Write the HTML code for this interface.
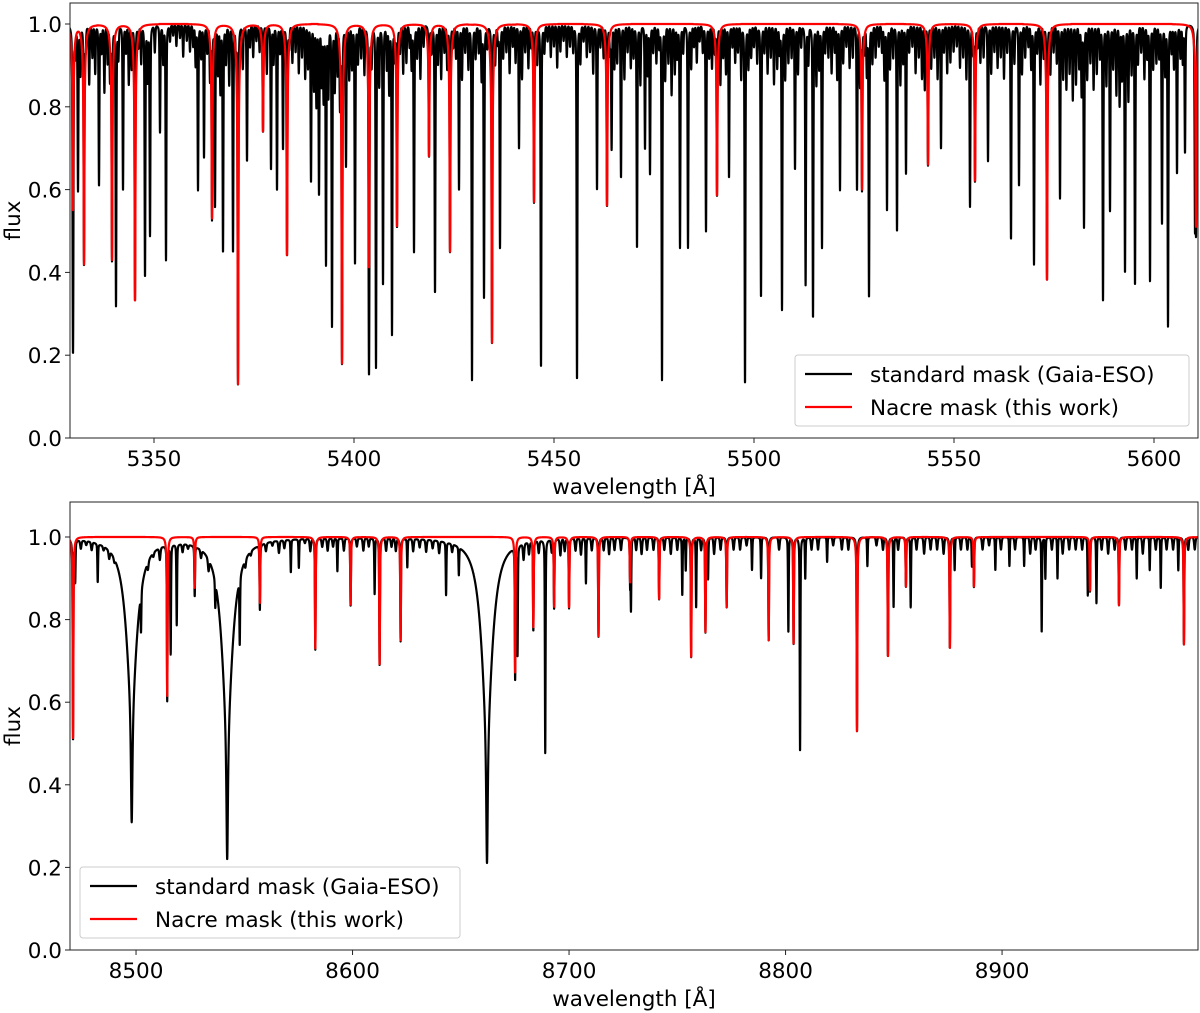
<!DOCTYPE html>
<html><head><meta charset="utf-8">
<style>
html,body{margin:0;padding:0;background:#fff;}
svg{display:block;font-family:"DejaVu Sans","Liberation Sans",sans-serif;}
</style></head>
<body>
<svg id="fig" width="1200" height="1013" viewBox="0 0 1200 1013" xmlns="http://www.w3.org/2000/svg">
<defs>
<clipPath id="clipTop"><rect x="70" y="3" width="1128" height="435"/></clipPath>
<clipPath id="clipBot"><rect x="70" y="502" width="1128" height="448"/></clipPath>
</defs>
<g id="top"></g>
<g id="bot"></g>
</svg>
<script>
// ---------- TOP PANEL DATA (5330-5610 Å) ----------
const topRedCenters = [5329.75,5332.5,5339.5,5345.25,5364.5,5371,5377.25,5383.25,5397,5403.75,5410.75,5418.75,5424,5434.5,5445,5463.25,5490.75,5527,5543.5,5555.25,5573.25,5610.5];
const topRedDepths  = [0.45,0.58,0.57,0.67,0.47,0.87,0.26,0.56,0.82,0.59,0.49,0.32,0.55,0.77,0.43,0.44,0.415,0.40,0.34,0.38,0.62,0.49];
const topDeepCenters = [5329.75,5331,5336.25,5340.5,5342.25,5347.75,5349,5351.5,5353,5361,5362.5,5365.25,5367.25,5369.75,5373.25,5379.25,5380.75,5382.25,5389.25,5391.25,5393,5394.5,5398,5400.25,5403.75,5405.5,5407.25,5409.5,5415,5420.25,5426.25,5429.5,5432.5,5436.5,5441.25,5446.75,5455.75,5460.75,5464.4,5466.75,5470.75,5472.75,5474,5477,5481.5,5483.5,5488,5493.75,5497.75,5501.75,5507,5510.25,5512.9,5514.75,5517,5521.5,5525.75,5528.75,5533.25,5535.75,5538,5546.75,5554,5558.5,5564.25,5566.25,5570,5576.5,5582.5,5587.25,5589,5592.75,5595.25,5599,5602,5603.5,5605.75,5607.75,5610.25];
const topDeepDepths  = [0.63,0.40,0.39,0.68,0.40,0.61,0.51,0.26,0.57,0.40,0.32,0.44,0.55,0.55,0.33,0.35,0.40,0.30,0.38,0.41,0.58,0.73,0.34,0.58,0.63,0.83,0.63,0.75,0.55,0.65,0.40,0.86,0.66,0.54,0.30,0.83,0.86,0.40,0.30,0.37,0.54,0.30,0.36,0.86,0.54,0.54,0.50,0.37,0.87,0.66,0.69,0.35,0.63,0.71,0.54,0.40,0.40,0.66,0.45,0.50,0.36,0.30,0.44,0.33,0.52,0.39,0.58,0.42,0.49,0.67,0.45,0.60,0.63,0.62,0.48,0.73,0.36,0.31,0.48];
const topShallowCenters = [5330.3,5331.6,5332.9,5333.8,5334.6,5335.3,5336.9,5337.6,5338.4,5339.0,5341.1,5343.0,5343.7,5344.4,5346.1,5346.8,5348.4,5350.2,5352.3,5354.0,5354.8,5355.6,5356.5,5357.3,5358.2,5359.0,5359.8,5360.4,5361.8,5363.3,5364.0,5366.0,5366.6,5368.0,5368.8,5370.5,5372.2,5374.0,5374.8,5375.6,5376.4,5378.2,5379.9,5381.5,5383.8,5384.6,5385.4,5386.2,5387.0,5387.8,5388.5,5390.0,5390.6,5391.9,5392.4,5393.6,5395.2,5395.9,5396.5,5398.8,5399.5,5401.0,5401.8,5402.6,5404.4,5406.3,5408.2,5408.8,5410.2,5411.5,5412.3,5413.1,5413.9,5414.4,5415.8,5416.6,5417.4,5419.4,5421.0,5421.8,5422.6,5423.3,5424.8,5425.5,5427.0,5427.8,5428.6,5430.4,5431.2,5431.9,5433.3,5435.3,5436.0,5437.3,5438.1,5438.9,5439.7,5440.4,5442.0,5442.8,5443.6,5444.3,5445.8,5447.6,5448.4,5449.2,5450.0,5450.8,5451.6,5452.4,5453.2,5454.0,5454.8,5456.6,5457.4,5458.2,5459.0,5459.8,5461.6,5462.4,5464.0,5465.1,5465.8,5467.6,5468.4,5469.2,5469.9,5471.6,5473.4,5474.8,5475.6,5476.3,5477.8,5478.6,5479.4,5480.2,5480.8,5482.3,5484.3,5485.0,5485.7,5486.4,5487.2,5488.8,5489.5,5490.2,5491.6,5492.3,5493.0,5494.6,5495.3,5496.0,5496.8,5498.6,5499.3,5500.0,5500.8,5502.6,5503.4,5504.2,5505.0,5505.8,5506.4,5507.8,5508.6,5509.4,5511.0,5511.8,5513.6,5515.6,5516.3,5517.8,5518.6,5519.4,5520.2,5520.8,5522.3,5523.1,5523.9,5524.7,5526.5,5527.6,5528.2,5529.6,5530.4,5531.2,5532.0,5532.6,5534.0,5534.8,5536.6,5537.3,5538.8,5539.6,5540.4,5541.2,5542.0,5542.7,5544.3,5545.1,5545.9,5547.5,5548.3,5549.1,5549.9,5550.7,5551.5,5552.3,5553.1,5554.8,5555.9,5556.6,5557.4,5559.3,5560.1,5560.9,5561.7,5562.5,5563.3,5565.1,5567.0,5567.8,5568.6,5569.3,5570.8,5571.6,5572.4,5574.1,5574.9,5575.7,5577.3,5578.1,5578.9,5579.7,5580.5,5581.3,5581.9,5583.3,5584.1,5584.9,5585.7,5586.5,5588.1,5589.8,5590.6,5591.4,5592.0,5593.6,5594.4,5596.0,5596.8,5597.6,5598.3,5599.8,5600.6,5601.3,5602.8,5604.4,5605.0,5606.6,5607.2,5608.5,5609.2];
const topShallowDepths  = [0.10,0.18,0.08,0.22,0.12,0.18,0.10,0.25,0.14,0.20,0.12,0.10,0.22,0.16,0.08,0.14,0.20,0.10,0.14,0.06,0.04,0.08,0.05,0.12,0.06,0.10,0.08,0.15,0.12,0.10,0.20,0.18,0.25,0.14,0.22,0.10,0.16,0.08,0.12,0.06,0.10,0.18,0.14,0.10,0.08,0.14,0.10,0.18,0.12,0.20,0.16,0.24,0.30,0.22,0.28,0.26,0.24,0.18,0.30,0.20,0.16,0.14,0.12,0.18,0.14,0.22,0.16,0.25,0.12,0.10,0.18,0.14,0.08,0.16,0.12,0.20,0.08,0.10,0.14,0.20,0.10,0.16,0.08,0.12,0.20,0.10,0.16,0.12,0.10,0.20,0.08,0.14,0.06,0.12,0.10,0.18,0.08,0.14,0.20,0.10,0.16,0.08,0.14,0.10,0.06,0.12,0.08,0.16,0.10,0.06,0.12,0.08,0.10,0.14,0.06,0.12,0.10,0.18,0.08,0.12,0.10,0.16,0.14,0.20,0.10,0.16,0.12,0.22,0.18,0.10,0.14,0.08,0.20,0.14,0.26,0.18,0.12,0.10,0.16,0.08,0.14,0.06,0.10,0.12,0.16,0.10,0.22,0.12,0.18,0.08,0.14,0.10,0.20,0.16,0.12,0.08,0.14,0.10,0.18,0.12,0.22,0.16,0.10,0.20,0.14,0.12,0.18,0.08,0.14,0.22,0.16,0.10,0.12,0.18,0.10,0.20,0.14,0.08,0.16,0.12,0.22,0.10,0.18,0.14,0.12,0.08,0.10,0.20,0.16,0.12,0.22,0.14,0.10,0.08,0.18,0.12,0.20,0.24,0.16,0.12,0.20,0.10,0.18,0.14,0.10,0.08,0.16,0.12,0.20,0.10,0.08,0.14,0.12,0.18,0.10,0.16,0.12,0.20,0.10,0.14,0.18,0.12,0.08,0.16,0.10,0.22,0.12,0.18,0.10,0.14,0.20,0.24,0.18,0.28,0.22,0.16,0.26,0.20,0.14,0.24,0.18,0.12,0.22,0.16,0.26,0.30,0.20,0.28,0.18,0.14,0.10,0.20,0.12,0.16,0.14,0.12,0.18,0.10,0.16,0.12,0.14];
const topXTicks = [5350,5400,5450,5500,5550,5600];
const yTicks = [0.0,0.2,0.4,0.6,0.8,1.0];

// ---------- BOTTOM PANEL DATA (8470-8990 Å) ----------
const botRedCenters = [8470.9,8514.4,8527.1,8557.2,8582.8,8599.1,8612.5,8622.2,8675.1,8683.5,8693.1,8700.0,8713.6,8728.2,8741.6,8756.4,8763.0,8772.8,8792.2,8803.7,8833.0,8847.3,8855.6,8875.9,8887.0,8940.6,8954.0,8984.0,8998.3];
const botRedDepths  = [0.49,0.385,0.124,0.16,0.27,0.165,0.31,0.25,0.33,0.22,0.17,0.17,0.24,0.11,0.15,0.29,0.23,0.17,0.25,0.26,0.47,0.29,0.12,0.27,0.12,0.13,0.165,0.26,0.50];
const botCaCenters = [8498.0,8542.1,8662.1];
const botCaDepths  = [0.69,0.78,0.79];
const botBlackCenters = [8471.9,8482.3,8502.3,8516.0,8518.8,8536.6,8547.9,8571.5,8575.2,8593.0,8610.2,8625.3,8643.2,8649.1,8676.2,8689.0,8707.8,8728.6,8752.3,8753.9,8758.7,8764.2,8784.5,8788.7,8801.3,8806.7,8809.1,8819.2,8837.8,8849.9,8857.8,8878.1,8886.1,8896.9,8903.4,8910.2,8918.3,8920.0,8925.6,8939.6,8943.6,8962.2,8968.2,8973.3,8981.4];
const botBlackDepths  = [0.10,0.095,0.11,0.27,0.20,0.07,0.18,0.08,0.07,0.08,0.135,0.07,0.13,0.07,0.27,0.52,0.11,0.17,0.14,0.08,0.17,0.10,0.08,0.10,0.23,0.52,0.10,0.06,0.07,0.17,0.17,0.08,0.07,0.08,0.07,0.07,0.23,0.10,0.10,0.14,0.16,0.10,0.08,0.124,0.08];
const botShallowCenters = [8474.5,8477.0,8479.5,8485.0,8487.6,8490.0,8505.5,8508.0,8511.0,8521.5,8524.0,8530.0,8533.5,8550.5,8553.0,8560.0,8563.0,8566.0,8568.5,8578.0,8580.5,8586.0,8588.5,8591.0,8596.0,8602.0,8605.0,8607.5,8615.5,8618.0,8620.0,8628.0,8631.0,8634.0,8637.0,8640.0,8646.0,8679.0,8681.5,8686.0,8692.0,8696.0,8698.0,8703.0,8705.5,8710.5,8716.0,8718.5,8721.0,8724.0,8731.0,8733.5,8736.0,8739.0,8744.0,8747.0,8750.0,8761.0,8767.0,8770.0,8776.0,8779.0,8782.0,8797.0,8812.0,8815.0,8822.0,8826.0,8829.0,8842.0,8845.0,8852.0,8860.5,8864.0,8867.0,8870.0,8873.0,8881.0,8884.0,8891.0,8894.0,8899.5,8906.0,8913.0,8915.5,8923.0,8928.0,8931.0,8934.0,8937.0,8946.0,8949.0,8952.0,8957.0,8960.0,8965.0,8971.0,8976.0,8979.0,8986.0,8989.0];
const botShallowDepths  = [0.02,0.01,0.02,0.01,0.02,0.01,0.02,0.01,0.03,0.02,0.01,0.02,0.03,0.02,0.01,0.02,0.01,0.03,0.02,0.01,0.03,0.02,0.03,0.02,0.03,0.02,0.03,0.02,0.03,0.02,0.03,0.03,0.02,0.03,0.02,0.03,0.02,0.04,0.03,0.03,0.03,0.04,0.03,0.03,0.04,0.03,0.03,0.04,0.03,0.03,0.03,0.04,0.03,0.03,0.03,0.04,0.03,0.03,0.04,0.03,0.03,0.03,0.02,0.03,0.03,0.03,0.02,0.03,0.03,0.02,0.03,0.03,0.03,0.04,0.03,0.03,0.04,0.03,0.03,0.03,0.02,0.03,0.03,0.04,0.03,0.03,0.04,0.03,0.03,0.03,0.03,0.04,0.03,0.03,0.03,0.04,0.03,0.03,0.03,0.03,0.03];
const botXTicks = [8500,8600,8700,8800,8900];

const FS = 21.5;
const NS = 'http://www.w3.org/2000/svg';
function mk(tag, attrs, parent){const e=document.createElementNS(NS,tag);for(const k in attrs)e.setAttribute(k,attrs[k]);parent.appendChild(e);return e;}

function lineProfile(dl, d, sig, gam){
  return d*(0.6*Math.exp(-dl*dl/(2*sig*sig)) + 0.4/(1+(dl/gam)*(dl/gam)));
}
function spectrum(lam, groups){
  let f=1;
  for(const g of groups){
    const c=g.c, d=g.d;
    const n=Math.min(c.length,d.length);
    for(let i=0;i<n;i++){
      const dl=lam-c[i];
      if(Math.abs(dl)>g.cut) continue;
      f*= 1 - g.scale*lineProfile(dl,d[i],g.sig,g.gam);
    }
  }
  return f;
}
function caSpectrum(lam, c, d){
  let f=1;
  for(let i=0;i<c.length;i++){
    const dl=lam-c[i];
    const core=0.47*d[i]/(1+(dl/0.45)*(dl/0.45));
    const wing=0.53*d[i]/(1+(dl/3.2)*(dl/3.2));
    f*=1-(core+wing);
  }
  return f;
}

function buildPanel(cfg){
  const g=document.getElementById(cfg.id);
  const X=v=>cfg.x0+(v-cfg.lmin)/(cfg.lmax-cfg.lmin)*(cfg.x1-cfg.x0);
  const Y=v=>cfg.y0-(v)*(cfg.y0-cfg.y1);
  const series=[{fn:cfg.black,color:'#000',name:'standard-mask-line'},{fn:cfg.red,color:'#ff0000',name:'nacre-mask-line'}];
  for(const s of series){
    let d='';
    for(let lam=cfg.lmin-0.5; lam<=cfg.lmax+0.5; lam+=cfg.step){
      const v=s.fn(lam);
      if(!isFinite(v)) continue;
      d+=(d?'L':'M')+X(lam).toFixed(2)+','+Y(v).toFixed(2);
    }
    const p=mk('path',{d:d,fill:'none',stroke:s.color,'stroke-width':2.2,'stroke-linejoin':'round','clip-path':'url(#'+cfg.clip+')'},g);
    
    
  }
  const fr=mk('rect',{x:cfg.x0,y:cfg.top,width:cfg.x1-cfg.x0,height:cfg.y0-cfg.top,fill:'none',stroke:'#222','stroke-width':1},g);
  
  
  for(const t of cfg.xt){
    const x=X(t);
    const tk=mk('line',{x1:x,x2:x,y1:cfg.y0,y2:cfg.y0+5,stroke:'#222','stroke-width':1},g);
    
    
    const tx=mk('text',{x:x,y:cfg.y0+28,'text-anchor':'middle','font-size':FS,fill:'#000'},g);
    tx.textContent=t;
    
    
  }
  for(const t of yTicks){
    const y=Y(t);
    const tk=mk('line',{x1:cfg.x0-5,x2:cfg.x0,y1:y,y2:y,stroke:'#222','stroke-width':1},g);
    
    
    const tx=mk('text',{x:cfg.x0-8,y:y+8,'text-anchor':'end','font-size':FS,fill:'#000'},g);
    tx.textContent=t.toFixed(1);
    
    
  }
  const xl=mk('text',{x:(cfg.x0+cfg.x1)/2,y:cfg.y0+56,'text-anchor':'middle','font-size':FS,fill:'#000'},g);
  xl.textContent='wavelength [Å]';
  
  
  const yc=(cfg.top+cfg.y0)/2;
  const yl=mk('text',{x:20,y:yc,'text-anchor':'middle','font-size':FS,fill:'#000',transform:'rotate(-90 20 '+yc+')'},g);
  yl.textContent='flux';
  
  
  const L=cfg.legend;
  const lg=mk('g',{},g);
  
  
  mk('rect',{x:L.x,y:L.y,width:L.w,height:L.h,rx:3,fill:'#fff','fill-opacity':0.85,stroke:'#ccc','stroke-width':1},lg);
  const entries=[['#000','standard mask (Gaia-ESO)'],['#ff0000','Nacre mask (this work)']];
  entries.forEach((e,i)=>{
    const yy=L.y+19+i*33;
    const ent=mk('g',{},lg);
    
    
    mk('line',{x1:L.x+10,x2:L.x+57,y1:yy,y2:yy,stroke:e[0],'stroke-width':2.2},ent);
    const t=mk('text',{x:L.x+75,y:yy+8,'font-size':FS,fill:'#000'},ent);
    t.textContent=e[1];
  });
}

const topGroupsBlack=[
  {c:topDeepCenters,d:topDeepDepths,sig:0.1,gam:0.12,cut:4,scale:1},
  {c:topShallowCenters,d:topShallowDepths,sig:0.12,gam:0.12,cut:4,scale:0.65},
  {c:topRedCenters,d:topRedDepths,sig:0.1,gam:0.12,cut:4,scale:1}
];
const topGroupsRed=[{c:topRedCenters,d:topRedDepths,sig:0.09,gam:0.3,cut:6,scale:1}];
buildPanel({id:'top',clip:'clipTop',x0:70,x1:1198,top:3,y0:438,y1:24,lmin:5329.0,lmax:5611.0,step:0.02,xt:topXTicks,
  black:l=>spectrum(l,topGroupsBlack), red:l=>spectrum(l,topGroupsRed),
  legend:{x:795,y:355,w:394,h:71}});

const botGroupsBlack=[
  {c:botBlackCenters,d:botBlackDepths,sig:0.16,gam:0.2,cut:6,scale:1},
  {c:botShallowCenters,d:botShallowDepths,sig:0.3,gam:0.3,cut:6,scale:1},
  {c:botRedCenters,d:botRedDepths,sig:0.16,gam:0.2,cut:6,scale:1}
];
const botGroupsRed=[{c:botRedCenters,d:botRedDepths,sig:0.15,gam:0.3,cut:10,scale:1}];
buildPanel({id:'bot',clip:'clipBot',x0:70,x1:1198,top:502,y0:950,y1:537,lmin:8469.5,lmax:8990.5,step:0.04,xt:botXTicks,
  black:l=>spectrum(l,botGroupsBlack)*caSpectrum(l,botCaCenters,botCaDepths), red:l=>spectrum(l,botGroupsRed),
  legend:{x:80,y:867,w:380,h:71}});
</script>
</body></html>
